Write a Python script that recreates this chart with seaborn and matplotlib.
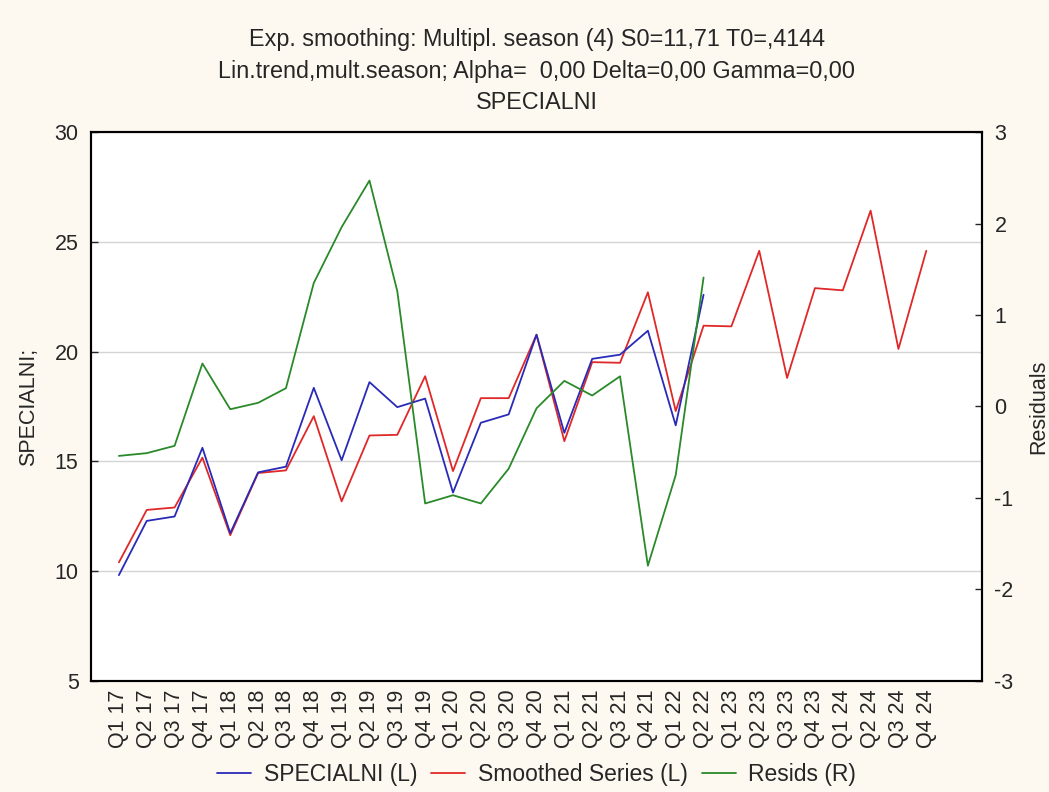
import matplotlib
matplotlib.use("Agg")
import matplotlib.pyplot as plt
import numpy as np
import pandas as pd
import seaborn as sns
from matplotlib.lines import Line2D

# Quarter labels (Q3 22 and Q4 22 are absent in the source series)
quarters = ["Q1 17", "Q2 17", "Q3 17", "Q4 17", "Q1 18", "Q2 18", "Q3 18", "Q4 18",
            "Q1 19", "Q2 19", "Q3 19", "Q4 19", "Q1 20", "Q2 20", "Q3 20", "Q4 20",
            "Q1 21", "Q2 21", "Q3 21", "Q4 21", "Q1 22", "Q2 22", "Q1 23", "Q2 23",
            "Q3 23", "Q4 23", "Q1 24", "Q2 24", "Q3 24", "Q4 24"]

specialni = [9.82, 12.29, 12.49, 15.62, 11.73, 14.50, 14.76, 18.35,
             15.05, 18.61, 17.47, 17.86, 13.58, 16.76, 17.14, 20.77,
             16.30, 19.67, 19.86, 20.95, 16.64, 22.59]

smoothed = [10.40, 12.79, 12.90, 15.17, 11.64, 14.47, 14.59, 17.06,
            13.18, 16.18, 16.21, 18.88, 14.56, 17.88, 17.88, 20.77,
            15.92, 19.52, 19.49, 22.70, 17.29, 21.18, 21.15, 24.59,
            18.80, 22.89, 22.79, 26.42, 20.12, 24.59]

resids = [-0.54, -0.51, -0.43, 0.47, -0.03, 0.04, 0.20, 1.35,
          1.96, 2.47, 1.26, -1.06, -0.97, -1.06, -0.68, -0.02,
          0.28, 0.12, 0.33, -1.74, -0.75, 1.41]

BLUE = "#2a2ab8"
RED = "#e02828"
GREEN = "#2a8a2a"
BG = "#fdf9f0"

sns.set_style("white")
plt.rcParams["font.family"] = ["Liberation Sans", "DejaVu Sans"]
plt.rcParams["axes.unicode_minus"] = False

fig = plt.figure(figsize=(10.49, 7.92), dpi=100, facecolor=BG)
ax = fig.add_axes([0.0868, 0.1402, 0.8493, 0.6931])
ax.set_facecolor("white")

df_obs = pd.DataFrame({"x": np.arange(len(specialni)), "y": specialni})
df_sm = pd.DataFrame({"x": np.arange(len(smoothed)), "y": smoothed})
df_res = pd.DataFrame({"x": np.arange(len(resids)), "y": resids})

sns.lineplot(data=df_obs, x="x", y="y", ax=ax, color=BLUE, lw=1.3, zorder=4)
sns.lineplot(data=df_sm, x="x", y="y", ax=ax, color=RED, lw=1.3, zorder=3)

ax2 = ax.twinx()
sns.lineplot(data=df_res, x="x", y="y", ax=ax2, color=GREEN, lw=1.3, zorder=2)

ax.set_xlim(-1, 31)
ax.set_ylim(5, 30)
ax2.set_ylim(-3, 3)

# every quarter labelled, ticks and grid only on every other quarter
ax.set_xticks(np.arange(len(quarters)))
ax.set_xticklabels(quarters, rotation=90, fontsize=15.5)
ax.set_xticks(np.arange(1, len(quarters), 2), minor=True)
ax.tick_params(axis="x", which="major", length=0, pad=6)
ax.tick_params(axis="x", which="minor", direction="in", length=5, width=1,
               top=True, bottom=True, color="black")
ax.grid(True, axis="x", which="minor", color="#d4d4d4", lw=1)

ax.set_yticks([5, 10, 15, 20, 25, 30])
ax.tick_params(axis="y", direction="in", length=5, width=1, labelsize=15.5, pad=9,
               left=True)
ax.grid(True, axis="y", which="major", color="#d4d4d4", lw=1)

ax2.set_yticks([-3, -2, -1, 0, 1, 2, 3])
ax2.tick_params(axis="y", direction="in", length=5, width=1, labelsize=15.5, pad=9,
                right=True)

ax.set_xlabel("")
ax.set_ylabel("SPECIALNI;", fontsize=15.5)
ax.yaxis.set_label_coords(-0.058, 0.5)
ax2.set_ylabel("Residuals", fontsize=15.5)
ax2.yaxis.set_label_coords(1.052, 0.5)

for a in (ax, ax2):
    for s in a.spines.values():
        s.set_color("black")
        s.set_linewidth(1.5)

# title lines and legend are centred over the plotting area
cx = 0.0868 + 0.8493 / 2
fig.text(cx, 0.950, "Exp. smoothing: Multipl. season (4) S0=11,71 T0=,4144",
         ha="center", va="center", fontsize=16.8)
fig.text(cx, 0.910, "Lin.trend,mult.season; Alpha=  0,00 Delta=0,00 Gamma=0,00",
         ha="center", va="center", fontsize=16.8)
fig.text(cx, 0.871, "SPECIALNI", ha="center", va="center", fontsize=16.8)

handles = [Line2D([], [], color=BLUE, lw=1.3),
           Line2D([], [], color=RED, lw=1.3),
           Line2D([], [], color=GREEN, lw=1.3)]
fig.legend(handles, ["SPECIALNI (L)", "Smoothed Series (L)", "Resids (R)"],
           loc="center", bbox_to_anchor=(cx, 0.022), ncol=3, frameon=False,
           fontsize=16.5, handlelength=1.5, handletextpad=0.55, columnspacing=0.6)

fig.savefig("out.png", dpi=100, facecolor=BG)
